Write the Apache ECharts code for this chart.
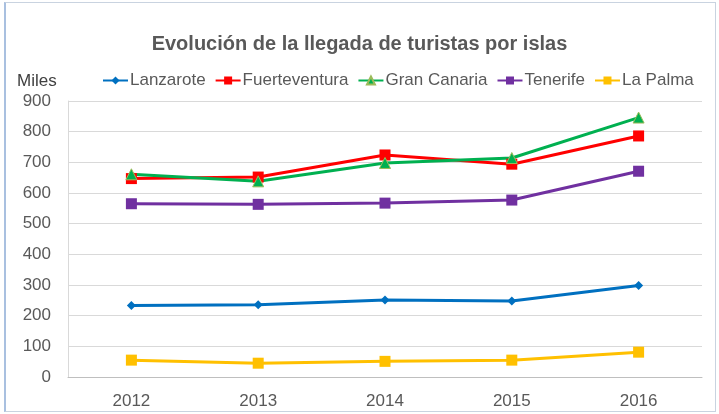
<!DOCTYPE html>
<html><head><meta charset="utf-8">
<script src="https://cdn.jsdelivr.net/npm/echarts@6/dist/echarts.min.js"></script>
<style>html,body{margin:0;padding:0;background:#fff}
#frame{position:absolute;left:4px;top:2px;width:712px;height:410px;border:1px solid #c9d3e0;border-left:2px solid #a9c0e0;box-sizing:border-box}
#c{position:absolute;left:0;top:0;width:719px;height:414px}</style>
</head><body><div id="frame"></div><div id="c"></div>
<script>
const years = ['2012','2013','2014','2015','2016'];
const lanzarote = [233, 236, 251, 248, 298];
const fuerteventura = [647, 652, 724, 694, 786];
const granCanaria = [661, 638, 698, 714, 846];
const tenerife = [565, 563, 567, 577, 671];
const laPalma = [55, 45, 51, 55, 81];
const yTicks = [0,100,200,300,400,500,600,700,800,900];

const font = 'Liberation Sans, sans-serif';
function s(name, data, color, symbol, size, border){
  return {name, type:'line', data, symbol, symbolSize:size, showSymbol:true,
    lineStyle:{color, width:3},
    itemStyle:border?{color, borderColor:border, borderWidth:1}:{color}, color};
}
const chart = echarts.init(document.getElementById('c'), null, {renderer:'canvas'});
chart.setOption({
  animation:false,
  title:[{text:'Evolución de la llegada de turistas por islas', left:'center', top:29,
    textStyle:{fontFamily:font, fontWeight:'bold', fontSize:20, color:'#595959'}},
    {text:'Miles', left:12, top:68, textStyle:{fontFamily:font, fontWeight:'normal', fontSize:17, color:'#404040'}}],
  legend:{top:67, left:97, itemGap:9, itemWidth:25, itemHeight:10,
    textStyle:{fontFamily:font, fontSize:17, color:'#595959', padding:[0,0,0,-3]}},
  grid:{left:68, right:17, top:101, bottom:37, containLabel:false},
  xAxis:{type:'category', data:years, boundaryGap:true,
    axisLine:{lineStyle:{color:'#bfbfbf'}}, axisTick:{show:false},
    axisLabel:{fontFamily:font, fontSize:17, color:'#595959', margin:16}},
  yAxis:{type:'value', min:0, max:900, interval:100,
    axisLine:{show:true, lineStyle:{color:'#d9d9d9'}}, axisTick:{show:false},
    axisLabel:{fontFamily:font, fontSize:17, color:'#595959', margin:17,
      formatter:v=>yTicks.includes(v)?String(v):''},
    splitLine:{lineStyle:{color:'#d9d9d9', width:1}}},
  series:[
    s('Lanzarote', lanzarote, '#0070c0', 'diamond', 9),
    s('Fuerteventura', fuerteventura, '#ff0000', 'rect', 11),
    s('Gran Canaria', granCanaria, '#00b050', 'triangle', 11, '#9bbb59'),
    s('Tenerife', tenerife, '#7030a0', 'rect', 11),
    s('La Palma', laPalma, '#ffc000', 'rect', 11)
  ]
});
</script></body></html>
